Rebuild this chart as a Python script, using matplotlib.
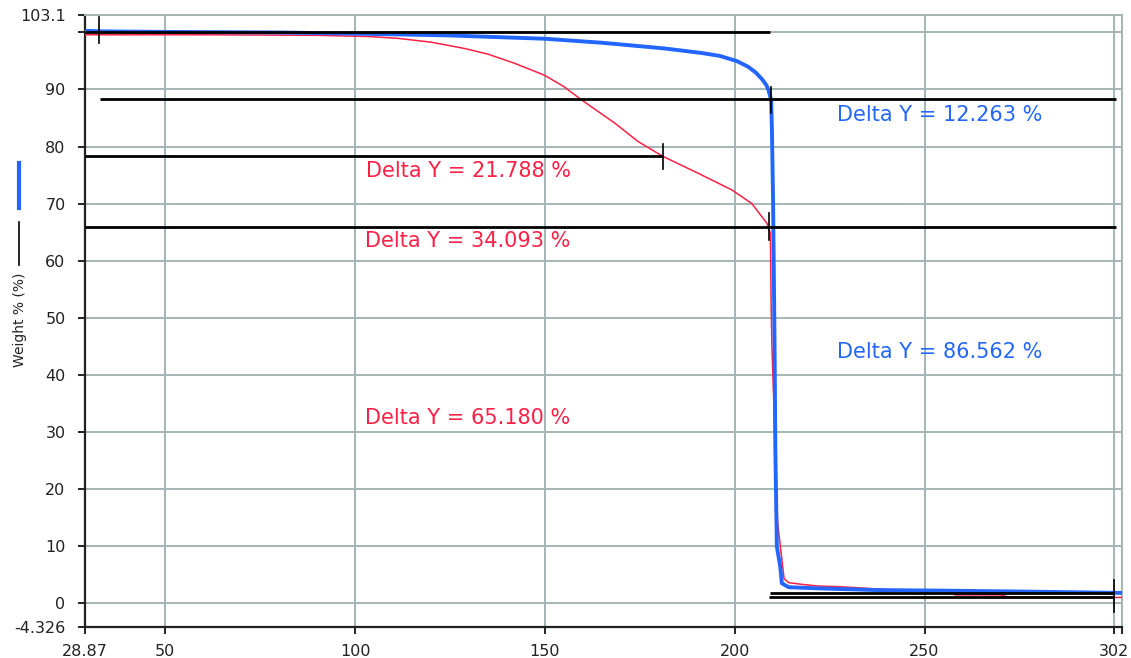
import matplotlib
matplotlib.use("Agg")
import matplotlib.pyplot as plt
from matplotlib.lines import Line2D

# blue trace (sample 1)
blue_x = [28.87, 33, 50, 80, 100, 124, 150, 165, 181.5, 191.3, 196, 200.5, 203.5,
          205.5, 207.2, 208.3, 208.9, 209.6, 209.8, 210.1, 210.5, 210.7, 211.1,
          212.0, 212.4, 214.2, 222.1, 237.1, 254.7, 280.2, 302]
blue_y = [100.3, 100.2, 100.1, 100.0, 99.8, 99.5, 98.9, 98.2, 97.2, 96.4, 95.9, 95.0, 94.0,
          93.0, 91.8, 90.8, 89.9, 88.1, 82.9, 70.6, 45.0, 26.8, 9.8,
          6.3, 3.4, 2.7, 2.5, 2.2, 2.1, 1.9, 1.7]

# red trace (sample 2)
red_x = [28.87, 60, 90, 103.4, 111.2, 120, 128.8, 135, 142.0, 149.9, 155, 159.6,
         168.4, 174.6, 181.0, 190.4, 199.2, 204.5, 208.5, 209.4, 209.6, 209.8,
         210.3, 210.7, 211.3, 212.0, 213.0, 214.2, 217.7, 222.1, 227.4, 240,
         256, 258, 270, 272, 302]
red_y = [99.6, 99.6, 99.5, 99.3, 98.98, 98.3, 97.2, 96.2, 94.6, 92.5, 90.5, 88.2,
         84.1, 80.85, 78.3, 75.3, 72.4, 70.0, 66.5, 64.8, 52.0, 45.0,
         35.0, 24.0, 14.0, 10.0, 4.2, 3.5, 3.2, 2.9, 2.8, 2.3,
         2.1, 1.35, 1.35, 1.0, 0.9]

# step analysis lines
step_y = [100.0, 88.28, 78.29, 65.94, 1.65, 1.05]
step_x0 = [28.87, 32.8, 28.87, 28.87, 209.3, 208.9]
step_x1 = [209.3, 300.4, 181.0, 300.4, 299.8, 299.8]

# cursor marks (x, y bottom, y top)
mark_x = [32.6, 209.6, 181.0, 208.9, 300.0]
mark_y0 = [98.1, 85.8, 76.0, 63.6, -1.6]
mark_y1 = [102.8, 90.4, 80.4, 68.3, 4.0]

deltas = ["Delta Y = 12.263 %", "Delta Y = 21.788 %", "Delta Y = 34.093 %",
          "Delta Y = 86.562 %", "Delta Y = 65.180 %"]

x_ticks = [28.87, 50, 100, 150, 200, 250, 300, 302]
x_labels = ["28.87", "50", "100", "150", "200", "250", "302", ""]
y_ticks = [-4.326, 0, 10, 20, 30, 40, 50, 60, 70, 80, 90, 100, 103.1]
y_labels = ["-4.326", "0", "10", "20", "30", "40", "50", "60", "70", "80", "90", "", "103.1"]

BLUE = "#2266ff"
RED = "#ff2045"
GRID = "#a3b5b5"

fig = plt.figure(figsize=(11.31, 6.58), dpi=100)
ax = fig.add_axes([0.0752, 0.0467, 0.9168, 0.9308])

ax.set_xlim(28.87, 302)
ax.set_ylim(-4.326, 103.1)
ax.set_xticks(x_ticks)
ax.set_xticklabels(x_labels)
ax.set_yticks(y_ticks)
ax.set_yticklabels(y_labels)
ax.grid(True, color=GRID, lw=1.4)
ax.set_axisbelow(True)
ax.tick_params(labelsize=11.5, colors="#222222", length=5, width=1.4)
ax.tick_params(axis="y", pad=9)
ax.tick_params(axis="x", pad=7)
for s in ["top", "right"]:
    ax.spines[s].set_color(GRID)
    ax.spines[s].set_linewidth(1.4)
for s in ["left", "bottom"]:
    ax.spines[s].set_color("#222222")
    ax.spines[s].set_linewidth(1.6)

ax.plot(red_x, red_y, color=RED, lw=1.1, zorder=3)
ax.plot(blue_x, blue_y, color=BLUE, lw=2.8, zorder=4)

for y, a, b in zip(step_y, step_x0, step_x1):
    ax.plot([a, b], [y, y], color="black", lw=2.0, zorder=5, solid_capstyle="butt")
for x, a, b in zip(mark_x, mark_y0, mark_y1):
    ax.plot([x, x], [a, b], color="black", lw=1.2, zorder=6)

txt = dict(fontsize=15, va="center", ha="left", zorder=7)
ax.text(227, 85.5, deltas[0], color=BLUE, **txt)
ax.text(102.8, 75.7, deltas[1], color=RED, **txt)
ax.text(102.6, 63.4, deltas[2], color=RED, **txt)
ax.text(227, 44.0, deltas[3], color=BLUE, **txt)
ax.text(102.6, 32.4, deltas[4], color=RED, **txt)

# y axis title with its line keys
fig.add_artist(Line2D([0.0168, 0.0168], [0.684, 0.752], color=BLUE, lw=3))
fig.add_artist(Line2D([0.0168, 0.0168], [0.597, 0.663], color="black", lw=1.2))
fig.text(0.0177, 0.514, "Weight % (%)", rotation=90, ha="center", va="center",
         fontsize=10, color="#222222")

fig.savefig("out.png", dpi=100)
